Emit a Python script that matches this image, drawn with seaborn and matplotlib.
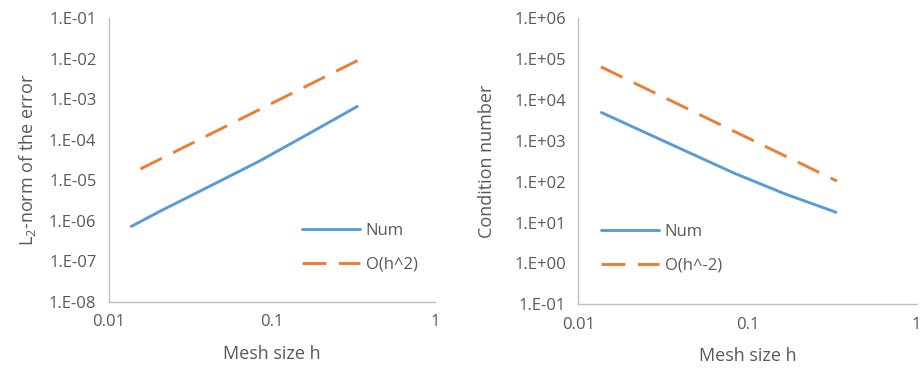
import numpy as np
import pandas as pd
import matplotlib
matplotlib.use("Agg")
import matplotlib.pyplot as plt
import seaborn as sns

# ---- data ----
h_num = [1/73, 1/48, 1/24, 1/12, 1/6, 1/3]
err_num = [7.3e-7, 1.77e-6, 7.2e-6, 2.94e-5, 1.38e-4, 6.6e-4]
h_err_ref = [0.0156, 0.336]
err_ref = [1.9e-5, 9.0e-3]

cond_num = [4900, 2210, 596, 161, 50, 17.8]
h_cond_ref = [0.0136, 0.338]
cond_ref = [6.4e4, 103]

x_ticks = [0.01, 0.1, 1]
x_labels = ["0.01", "0.1", "1"]
y_ticks_err = [1e-8, 1e-7, 1e-6, 1e-5, 1e-4, 1e-3, 1e-2, 1e-1]
y_labels_err = ["1.E-08", "1.E-07", "1.E-06", "1.E-05", "1.E-04", "1.E-03", "1.E-02", "1.E-01"]
y_ticks_cond = [1e-1, 1e0, 1e1, 1e2, 1e3, 1e4, 1e5, 1e6]
y_labels_cond = ["1.E-01", "1.E+00", "1.E+01", "1.E+02", "1.E+03", "1.E+04", "1.E+05", "1.E+06"]

BLUE = "#5B9BD5"
ORANGE = "#ED7D31"
TXT = "#595959"
GRID = "#BFBFBF"

sns.set_theme(style="white")
plt.rcParams["font.family"] = ["Open Sans", "DejaVu Sans"]
plt.rcParams["mathtext.default"] = "regular"

fig = plt.figure(figsize=(9.21, 3.68), dpi=100)
axL = fig.add_axes([109/921, 1-302/368, 326/921, 284/368])
axR = fig.add_axes([578.3/921, 1-304.3/368, 338.4/921, 286.3/368])


def draw(ax, h1, y1, lab1, h2, y2, lab2, yticks, ylabels, ylim, ylabel, ylab_x, leg_anchor):
    d1 = pd.DataFrame({"h": h1, "v": y1})
    d2 = pd.DataFrame({"h": h2, "v": y2})
    sns.lineplot(data=d1, x="h", y="v", ax=ax, color=BLUE, linewidth=2.1, label=lab1)
    sns.lineplot(data=d2, x="h", y="v", ax=ax, color=ORANGE, linewidth=2.1, label=lab2)
    ax.lines[1].set_dashes((8.2, 4.3))
    ax.lines[1].set_dash_capstyle("butt")
    ax.set_xscale("log")
    ax.set_yscale("log")
    ax.set_xlim(0.01, 1)
    ax.set_ylim(*ylim)
    ax.set_xticks(x_ticks, x_labels)
    ax.set_yticks(yticks, ylabels)
    ax.minorticks_off()
    ax.tick_params(axis="both", length=0, colors=TXT, labelsize=12)
    ax.tick_params(axis="x", pad=9)
    ax.tick_params(axis="y", pad=9)
    for s in ["top", "right"]:
        ax.spines[s].set_visible(False)
    for s in ["left", "bottom"]:
        ax.spines[s].set_color(GRID)
        ax.spines[s].set_linewidth(1.0)
    ax.set_xlabel("Mesh size h", fontsize=13, color=TXT)
    ax.set_ylabel(ylabel, fontsize=13, color=TXT)
    ax.xaxis.set_label_coords(0.5, -0.15)
    ax.yaxis.set_label_coords(ylab_x, 0.5)
    ax.grid(False)
    leg = ax.legend(loc="upper left", bbox_to_anchor=leg_anchor, frameon=False,
                    fontsize=12, handlelength=3.5, handletextpad=0.35,
                    labelspacing=1.05, borderpad=0, borderaxespad=0)
    for t in leg.get_texts():
        t.set_color(TXT)
    leg.get_lines()[1].set_dashes((8.2, 4.3))
    leg.get_lines()[1].set_dash_capstyle("butt")


draw(axL, h_num, err_num, "Num", h_err_ref, err_ref, "O(h^2)",
     y_ticks_err, y_labels_err, (1e-8, 1e-1), "L$_2$-norm of the error", -0.218, (0.591, 0.277))
draw(axR, h_num, cond_num, "Num", h_cond_ref, cond_ref, "O(h^-2)",
     y_ticks_cond, y_labels_cond, (1e-1, 1e6), "Condition number", -0.244, (0.066, 0.281))

fig.savefig("out.png", dpi=100)
